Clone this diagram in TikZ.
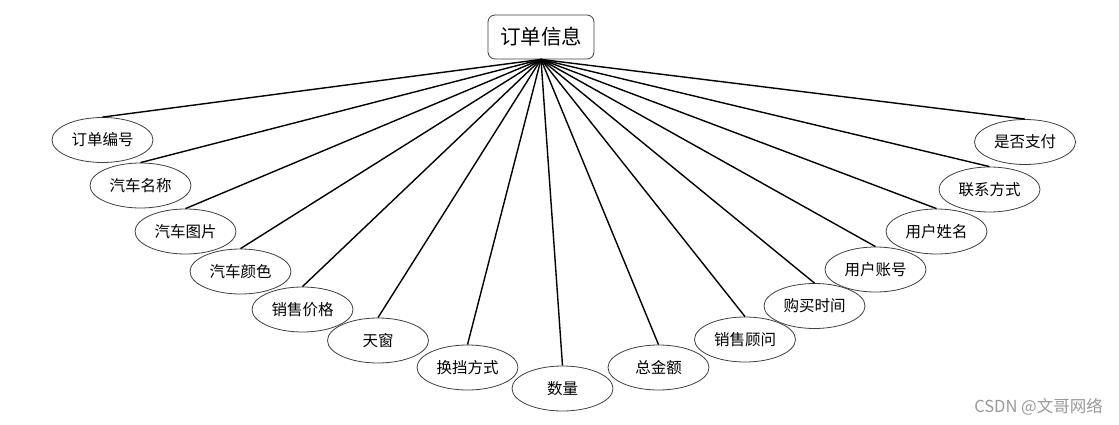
\documentclass[tikz,border=0pt]{standalone}
\usepackage{fontspec}
\setmainfont{Noto Sans CJK SC}
\usetikzlibrary{shapes.geometric}
\begin{document}
\begin{tikzpicture}[x=1pt,y=-1pt,
  attr/.style={ellipse,draw=black!75,line width=0.8pt,minimum width=101pt,minimum height=45pt,inner sep=0pt,font=\fontsize{15.5}{17}\selectfont,fill=white},
  ent/.style={rounded corners=7pt,draw=black!75,line width=0.8pt,minimum width=106pt,minimum height=44pt,inner sep=0pt,font=\fontsize{20.5}{22}\selectfont},
  link/.style={line width=1.4pt,black}]
\useasboundingbox (0,0) rectangle (1119,425);
\node[ent] (top) at (541,37) {订单信息};
\node[attr] (a1) at (102.5,140) {订单编号};
\node[attr] (a2) at (140.5,185.5) {汽车名称};
\node[attr] (a3) at (185.5,231.5) {汽车图片};
\node[attr] (a4) at (240.5,271.5) {汽车颜色};
\node[attr] (a5) at (302.5,309.5) {销售价格};
\node[attr] (a6) at (378,340.5) {天窗};
\node[attr] (a7) at (467.5,367.5) {换挡方式};
\node[attr] (a8) at (562.5,388.5) {数量};
\node[attr] (a9) at (658.5,367.5) {总金额};
\node[attr] (a10) at (745,339.5) {销售顾问};
\node[attr] (a11) at (814.5,306) {购买时间};
\node[attr] (a12) at (875.5,269.5) {用户账号};
\node[attr] (a13) at (936.5,231.5) {用户姓名};
\node[attr] (a14) at (989.5,189.5) {联系方式};
\node[attr] (a15) at (1025,142) {是否支付};
\foreach \i in {1,...,15} {\draw[link] (top.south) -- (a\i.north);}
\node[text=black!40,font=\fontsize{16.5}{18}\selectfont,anchor=east,inner sep=0pt] (wm) at (1103,407) {CSDN @文哥网络};
\end{tikzpicture}
\end{document}
